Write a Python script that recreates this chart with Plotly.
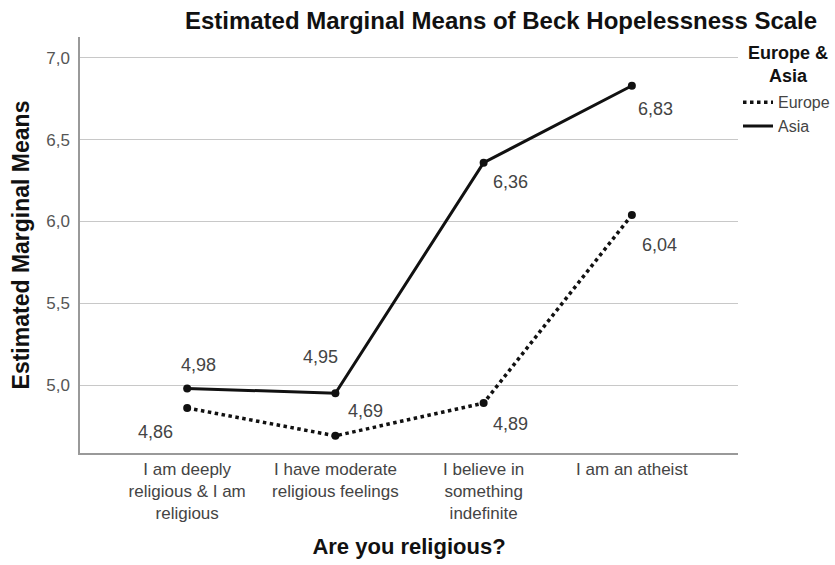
import plotly.graph_objects as go

# Religiosity categories on the x axis
categories = [
    "I am deeply<br>religious & I am<br>religious",
    "I have moderate<br>religious feelings",
    "I believe in<br>something<br>indefinite",
    "I am an atheist",
]

# Estimated marginal means of the Beck Hopelessness Scale
europe = [4.86, 4.69, 4.89, 6.04]
asia = [4.98, 4.95, 6.36, 6.83]

# Pixel offsets of the value labels from their points
europe_offsets = [(-32, -24), (30, 25), (27, -21), (28, -30)]
asia_offsets = [(11, 23), (-15, 36), (27, -19), (24, -23)]

FONT = "Liberation Sans, Arial, sans-serif"
xs = list(range(len(categories)))

fig = go.Figure()
series_list = [("Europe", europe, "dot", 3.5), ("Asia", asia, "solid", 3)]
for name, values, dash, width in series_list:
    # line (shown in the legend)
    fig.add_trace(go.Scatter(
        x=xs, y=values, name=name, mode="lines",
        line=dict(color="#111111", width=width, dash=dash),
    ))
    # point markers (kept out of the legend)
    fig.add_trace(go.Scatter(
        x=xs, y=values, name=name, mode="markers", showlegend=False,
        marker=dict(color="#111111", size=8),
    ))


def fmt(v):
    return f"{v:.2f}".replace(".", ",")


for series, offsets in ((europe, europe_offsets), (asia, asia_offsets)):
    for x, v, (dx, dy) in zip(xs, series, offsets):
        fig.add_annotation(
            x=x, y=v, text=fmt(v), showarrow=False,
            xshift=dx, yshift=dy,
            font=dict(family=FONT, size=18, color="#444444"),
        )

# Legend heading, centred over the legend entries
fig.add_annotation(
    xref="paper", yref="paper", x=1.076, y=0.935,
    xanchor="center", yanchor="middle", align="center",
    text="<b>Europe &<br>Asia</b>", showarrow=False,
    font=dict(family=FONT, size=18, color="#111111"),
)

fig.update_layout(
    width=835, height=565,
    margin=dict(l=80, r=97, t=37, b=112, autoexpand=False),
    paper_bgcolor="white", plot_bgcolor="white",
    separators=",.",
    font=dict(family=FONT, color="#222222"),
    title=dict(
        text="<b>Estimated Marginal Means of Beck Hopelessness Scale</b>",
        x=0.6, xanchor="center", y=0.964, yanchor="middle",
        font=dict(family=FONT, size=24, color="#111111"),
    ),
    showlegend=True,
    legend=dict(
        x=1.0, xanchor="left", y=0.884, yanchor="top",
        itemwidth=30, tracegroupgap=0,
        font=dict(family=FONT, size=16, color="#444444"),
        bgcolor="rgba(0,0,0,0)",
    ),
    xaxis=dict(
        tickmode="array", tickvals=xs, ticktext=categories,
        range=[-0.723, 3.716], showgrid=False, zeroline=False,
        showline=True, linecolor="#999999", linewidth=1.5,
        ticks="", tickfont=dict(family=FONT, size=17, color="#444444"),
        title=dict(text="<b>Are you religious?</b>", standoff=16,
                   font=dict(family=FONT, size=22, color="#111111")),
    ),
    yaxis=dict(
        range=[4.585, 7.128], tickvals=[5.0, 5.5, 6.0, 6.5, 7.0],
        tickformat=".1f", showgrid=True, gridcolor="#c8c8c8", gridwidth=1,
        zeroline=False, showline=True, linecolor="#999999", linewidth=1.5,
        ticks="", ticklabelstandoff=5,
        tickfont=dict(family=FONT, size=17, color="#555555"),
        title=dict(text="<b>Estimated Marginal Means</b>", standoff=10,
                   font=dict(family=FONT, size=23, color="#111111")),
    ),
)

fig.write_html("out.html")
